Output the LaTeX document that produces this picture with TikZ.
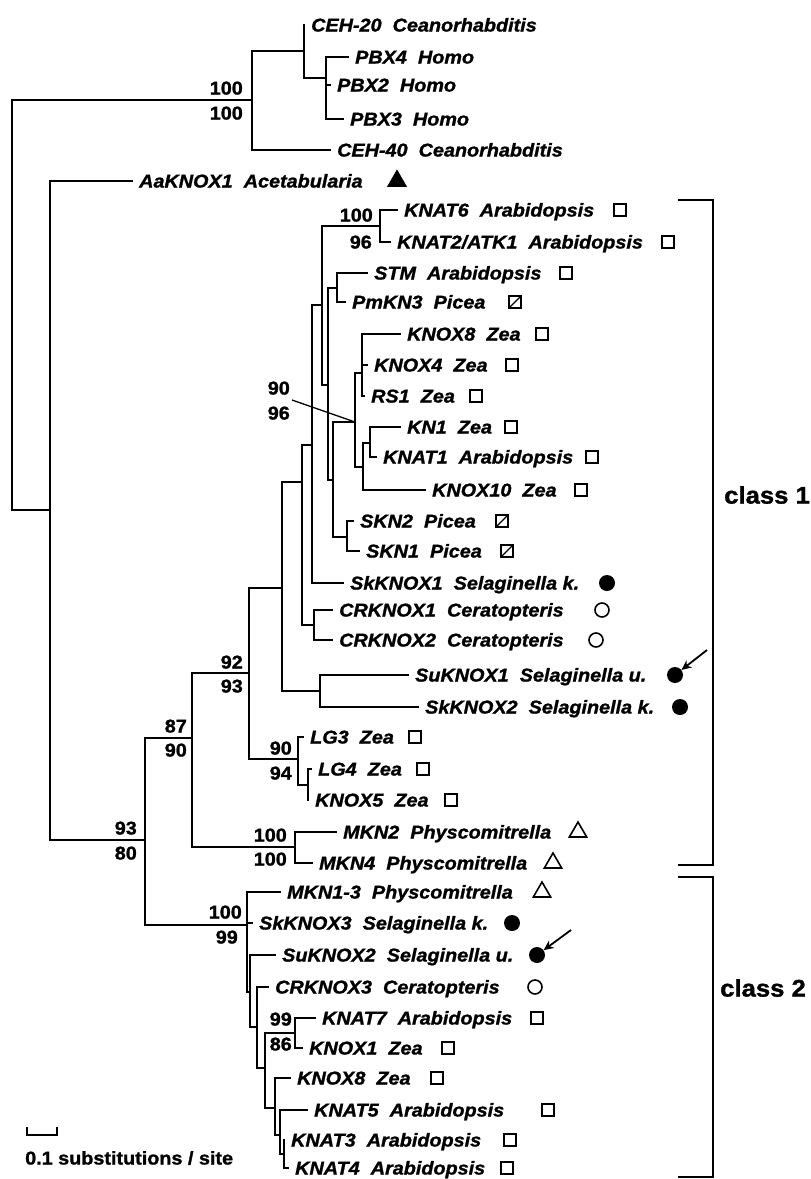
\documentclass[tikz,border=0pt]{standalone}
\usepackage{fontspec}
\setmainfont{Liberation Sans}
\newfontfamily\labfont{Liberation Sans}[FakeStretch=1.07,FakeBold=1.3]
\usetikzlibrary{arrows.meta, positioning, shapes.geometric}

\newcommand{\gene}[2]{#1\hspace{0.6em}#2}

\begin{document}
\begin{tikzpicture}[x=1pt,y=-1pt,>=Stealth,
   br/.style={line width=2.8pt,line cap=rect},
   lab/.style={inner sep=0pt,text height=13pt,text depth=0pt,
     font=\labfont\fontsize{18.5}{20}\selectfont\bfseries\itshape},
   bs/.style={inner sep=0pt,anchor=east,text height=13pt,text depth=0pt,
     font=\labfont\fontsize{18.5}{20}\selectfont\bfseries},
   sq/.style={draw,line width=1.6pt,minimum size=12pt,inner sep=0pt},
   sqx/.style={sq,path picture={\draw[line width=1.3pt]
     (path picture bounding box.south west) -- (path picture bounding box.north east);}},
   dot/.style={circle,fill,minimum size=16pt,inner sep=0pt},
   ring/.style={circle,draw,line width=1.6pt,minimum size=14pt,inner sep=0pt},
   tri/.style={regular polygon,regular polygon sides=3,draw,line width=1.6pt,
     minimum size=20pt,inner sep=0pt},
   trif/.style={tri,fill},
   arr/.style={line width=1.8pt,-{Stealth[length=10pt,width=9pt]}},
   brk/.style={line width=2.6pt}]
  \useasboundingbox (0,0) rectangle (811,1179);
  % leaves: tip, label
  \foreach \n/\tx/\ty/\g/\s in {ceh20/304/25/CEH-20/Ceanorhabditis,
      pbx4/348/57/PBX4/Homo, pbx2/330/85/PBX2/Homo, pbx3/343/119/PBX3/Homo,
      ceh40/330/150/CEH-40/Ceanorhabditis, aaknox1/132/181/AaKNOX1/Acetabularia,
      knat6/397/210/KNAT6/Arabidopsis, knat2/390/242/{KNAT2/ATK1}/Arabidopsis,
      stm/367/273/STM/Arabidopsis, pmkn3/345/302/PmKN3/Picea,
      knox8/400/334/KNOX8/Zea, knox4/367/365/KNOX4/Zea, rs1/364/396/RS1/Zea,
      kn1/400/427/KN1/Zea, knat1/376/457/KNAT1/Arabidopsis,
      knox10/425/490/KNOX10/Zea, skn2/353/521/SKN2/Picea, skn1/359/551/SKN1/Picea,
      skknox1/343/583/SkKNOX1/Selaginella k., crknox1/332/610/CRKNOX1/Ceratopteris,
      crknox2/332/640/CRKNOX2/Ceratopteris, suknox1/408/675/SuKNOX1/Selaginella u.,
      skknox2/418/707/SkKNOX2/Selaginella k., lg3/303/737/LG3/Zea,
      lg4/311/769/LG4/Zea, knox5/308/800/KNOX5/Zea,
      mkn2/336/832/MKN2/Physcomitrella, mkn4/312/863/MKN4/Physcomitrella,
      mkn13/280/892/MKN1-3/Physcomitrella, skknox3/252/923/SkKNOX3/Selaginella k.,
      suknox2/275/955/SuKNOX2/Selaginella u., crknox3/268/987/CRKNOX3/Ceratopteris,
      knat7/315/1018/KNAT7/Arabidopsis, knox1/302/1048/KNOX1/Zea,
      knox8b/290/1078/KNOX8/Zea, knat5/307/1110/KNAT5/Arabidopsis,
      knat3/284/1140/KNAT3/Arabidopsis, knat4/288/1168/KNAT4/Arabidopsis}
  {
    \coordinate (t-\n) at (\tx,\ty);
    \node[lab,right=7pt of t-\n] (l-\n) {\gene{\g}{\s}};
  }
  % group symbols
  \foreach \n/\sx/\sym in {aaknox1/397/trif, knat6/620/sq, knat2/668/sq,
      stm/566/sq, pmkn3/515/sqx, knox8/542/sq, knox4/512/sq, rs1/476/sq,
      kn1/511/sq, knat1/592/sq, knox10/581/sq, skn2/502/sqx, skn1/507/sqx,
      skknox1/607/dot, crknox1/602/ring, crknox2/596/ring, suknox1/675/dot,
      skknox2/680/dot, lg3/415/sq, lg4/423/sq, knox5/451/sq, mkn2/578/tri,
      mkn4/553/tri, mkn13/542/tri, skknox3/512/dot, suknox2/537/dot,
      crknox3/535/ring, knat7/537/sq, knox1/448/sq, knox8b/437/sq,
      knat5/548/sq, knat3/510/sq, knat4/507/sq}
    \node[\sym] (s-\n) at (\sx,0 |- t-\n) {};
  % internal nodes
  \coordinate (nR) at (12,305);
  \coordinate (nO) at (252,100);
  \coordinate (nQ) at (304,51);
  \coordinate (nS) at (326,78);
  \coordinate (nP) at (50,510);
  \coordinate (nM) at (145,840);
  \coordinate (nL) at (192,738);
  \coordinate (nK) at (249,673);
  \coordinate (nJ) at (282,588);
  \coordinate (nD) at (302,482);
  \coordinate (nB) at (312,445);
  \coordinate (nA) at (322,305);
  \coordinate (nU) at (380,226);
  \coordinate (nC) at (328,385);
  \coordinate (nV) at (337,288);
  \coordinate (nE) at (333,480);
  \coordinate (nF) at (355,422);
  \coordinate (nG) at (362,373);
  \coordinate (nH) at (363,467);
  \coordinate (nI) at (370,443);
  \coordinate (nW) at (347,537);
  \coordinate (nX) at (314,625);
  \coordinate (nT) at (320,691);
  \coordinate (nY) at (298,759);
  \coordinate (nZ) at (308,785);
  \coordinate (nMK) at (295,847);
  \coordinate (nN) at (247,925);
  \coordinate (nN2) at (250,992);
  \coordinate (nN3) at (257,1027);
  \coordinate (nN4) at (265,1068);
  \coordinate (nKN) at (295,1033);
  \coordinate (nN5) at (275,1108);
  \coordinate (nN6) at (280,1135);
  \coordinate (nN7) at (284,1154);
  % outgroup
  \draw[br] (nO) -- (nR |- nO) -- (nR |- nP) -- (nP);
  \draw[br] (nQ) -- (nO |- nQ) -- (nO |- t-ceh40) -- (t-ceh40);
  \draw[br] (t-ceh20) -- (nQ |- nS) -- (nS);
  \draw[br] (t-pbx4) -- (nS |- t-pbx4) -- (nS |- t-pbx3) -- (t-pbx3);
  \draw[br] (nS |- t-pbx2) -- (t-pbx2);
  % plant KNOX
  \draw[br] (t-aaknox1) -- (nP |- t-aaknox1) -- (nP |- nM) -- (nM);
  \draw[br] (nL) -- (nM |- nL) -- (nM |- nN) -- (nN);
  \draw[br] (nK) -- (nL |- nK) -- (nL |- nMK) -- (nMK);
  \draw[br] (nJ) -- (nK |- nJ) -- (nK |- nY) -- (nY);
  \draw[br] (nD) -- (nJ |- nD) -- (nJ |- nT) -- (nT);
  \draw[br] (nB) -- (nD |- nB) -- (nD |- nX) -- (nX);
  \draw[br] (nA) -- (nB |- nA) -- (nB |- t-skknox1) -- (t-skknox1);
  \draw[br] (nU) -- (nA |- nU) -- (nA |- nC) -- (nC);
  \draw[br] (t-knat6) -- (nU |- t-knat6) -- (nU |- t-knat2) -- (t-knat2);
  \draw[br] (nV) -- (nC |- nV) -- (nC |- nE) -- (nE);
  \draw[br] (t-stm) -- (nV |- t-stm) -- (nV |- t-pmkn3) -- (t-pmkn3);
  \draw[br] (nF) -- (nE |- nF) -- (nE |- nW) -- (nW);
  \draw[br] (nG) -- (nF |- nG) -- (nF |- nH) -- (nH);
  \draw[br] (t-knox8) -- (nG |- t-knox8) -- (nG |- t-rs1) -- (t-rs1);
  \draw[br] (nG |- t-knox4) -- (t-knox4);
  \draw[br] (nI) -- (nH |- nI) -- (nH |- t-knox10) -- (t-knox10);
  \draw[br] (t-kn1) -- (nI |- t-kn1) -- (nI |- t-knat1) -- (t-knat1);
  \draw[br] (t-skn2) -- (nW |- t-skn2) -- (nW |- t-skn1) -- (t-skn1);
  \draw[br] (t-crknox1) -- (nX |- t-crknox1) -- (nX |- t-crknox2) -- (t-crknox2);
  \draw[br] (t-suknox1) -- (nT |- t-suknox1) -- (nT |- t-skknox2) -- (t-skknox2);
  \draw[br] (t-lg3) -- (nY |- t-lg3) -- (nY |- nZ) -- (nZ);
  \draw[br] (t-lg4) -- (nZ |- t-lg4) -- (nZ |- t-knox5) -- (t-knox5);
  \draw[br] (t-mkn2) -- (nMK |- t-mkn2) -- (nMK |- t-mkn4) -- (t-mkn4);
  % class 2 clade
  \draw[br] (t-mkn13) -- (nN |- t-mkn13) -- (nN |- nN2) -- (nN2);
  \draw[br] (nN |- t-skknox3) -- (t-skknox3);
  \draw[br] (t-suknox2) -- (nN2 |- t-suknox2) -- (nN2 |- nN3) -- (nN3);
  \draw[br] (t-crknox3) -- (nN3 |- t-crknox3) -- (nN3 |- nN4) -- (nN4);
  \draw[br] (nKN) -- (nN4 |- nKN) -- (nN4 |- nN5) -- (nN5);
  \draw[br] (t-knat7) -- (nKN |- t-knat7) -- (nKN |- t-knox1) -- (t-knox1);
  \draw[br] (t-knox8b) -- (nN5 |- t-knox8b) -- (nN5 |- nN6) -- (nN6);
  \draw[br] (t-knat5) -- (nN6 |- t-knat5) -- (nN6 |- nN7) -- (nN7);
  \draw[br] (t-knat3) -- (nN7 |- t-knat3) -- (nN7 |- t-knat4) -- (t-knat4);
  % bootstrap values
  \foreach \x/\y/\v [count=\i] in {243/88/100, 243/113/100, 373/215/100, 372/242/96,
      290/388/90, 290/413/96, 243/662/92, 243/686/93, 292/748/90, 292/773/94,
      187/726/87, 187/750/90, 137/828/93, 137/853/80, 287/835/100, 287/859/100,
      242/912/100, 238/937/99, 292/1019/99, 292/1044/86}
    \node[bs] (bs\i) at (\x,\y) {\v};
  \coordinate (ld) at (292,400);
  \draw[line width=1.3pt] (ld) -- (nF);
  % arrows to the new Selaginella genes
  \coordinate (ar1) at (707,650);
  \coordinate (ar2) at (571,930);
  \draw[arr] (ar1) -- (s-suknox1);
  \draw[arr] (ar2) -- (s-suknox2);
  % class brackets
  \coordinate (c1) at (678,200);
  \coordinate (c2) at (678,877);
  \draw[brk] (c1) -- ++(35,0) |- (678,865);
  \draw[brk] (c2) -- ++(35,0) |- (678,1177);
  \node[anchor=west,inner sep=0pt,font=\labfont\fontsize{24}{28}\selectfont\bfseries] (cls1) at (724,495) {class 1};
  \node[anchor=west,inner sep=0pt,font=\labfont\fontsize{24}{28}\selectfont\bfseries] (cls2) at (720,988) {class 2};
  % scale bar
  \coordinate (sc) at (27,1127);
  \draw[line width=1.8pt] (sc) -- ++(0,8) -- ++(30,0) -- ++(0,-8);
  \node[anchor=west,inner sep=0pt,font=\labfont\fontsize{18.5}{20}\selectfont\bfseries] (scl) at (25,1158) {0.1 substitutions / site};
\end{tikzpicture}
\end{document}
